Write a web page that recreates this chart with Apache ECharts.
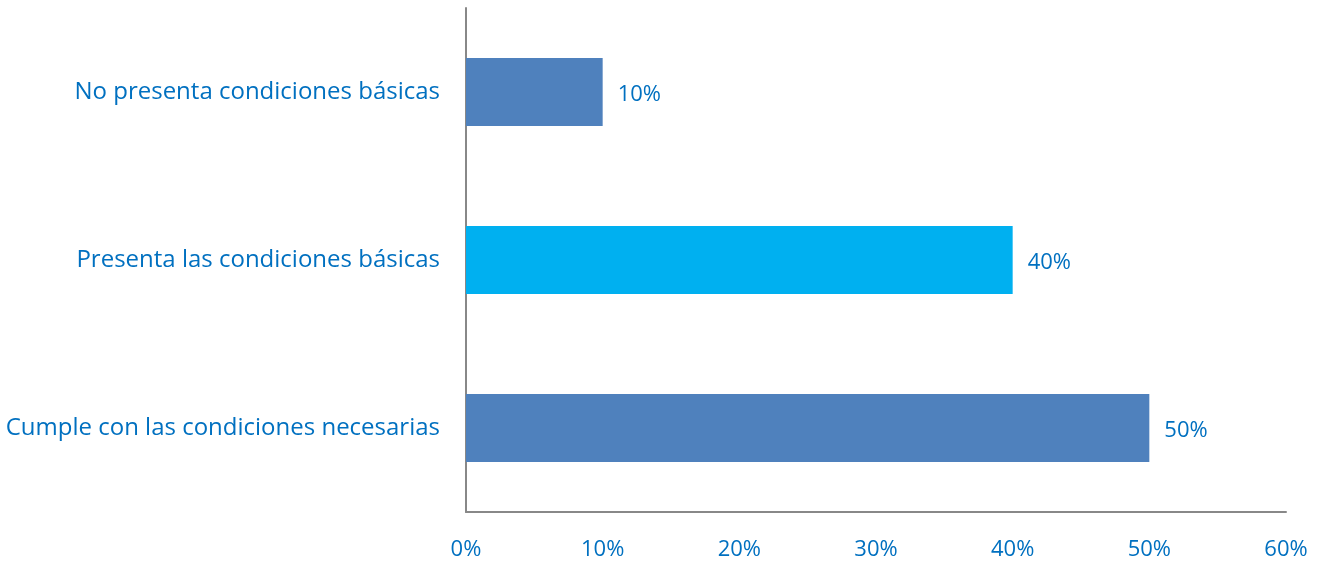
<!DOCTYPE html>
<html>
<head>
<meta charset="utf-8">
<script src="https://cdn.jsdelivr.net/npm/echarts@6/dist/echarts.min.js"></script>
<style>
  html, body { margin: 0; padding: 0; background: #fff; }
  #show_picture { width: 1321px; height: 563px; }
</style>
</head>
<body>
<div id="show_picture"></div>
<script>
    // bottom to top, as the category axis draws them
    const categories = ['Cumple con las condiciones necesarias', 'Presenta las condiciones básicas', 'No presenta condiciones básicas'];
    const values = [50, 40, 10];
    const barColors = ['#4f81bd', '#00b0f0', '#4f81bd'];
    const xTicks = [0, 10, 20, 30, 40, 50, 60];

    let myChart = echarts.init(document.getElementById('show_picture'));

    const textColor = '#0070c0';
    const font = '"Open Sans", sans-serif';

    let option = {
        animation: false,
        grid: { left: 466, right: 35, top: 8, bottom: 51 },
        xAxis: {
            type: 'value',
            min: xTicks[0],
            max: xTicks[xTicks.length - 1],
            interval: 10,
            axisLine: { show: true, lineStyle: { color: '#888', width: 2 } },
            axisTick: { show: false },
            splitLine: { show: false },
            axisLabel: {
                color: textColor, fontSize: 22, fontFamily: font, margin: 27,
                formatter: v => v + '%'
            }
        },
        yAxis: {
            type: 'category',
            data: categories,
            axisLine: { show: true, lineStyle: { color: '#888', width: 2 } },
            axisTick: { show: false },
            axisLabel: { color: textColor, fontSize: 24, fontFamily: font, margin: 26 }
        },
        series: [{
            type: 'bar',
            data: values.map((v, i) => ({ value: v, itemStyle: { color: barColors[i] } })),
            barWidth: 68,
            label: {
                show: true,
                position: 'right',
                distance: 15,
                offset: [0, 3],
                color: textColor,
                fontSize: 22,
                fontFamily: font,
                formatter: p => p.value + '%'
            }
        }]
    };

    option && myChart.setOption(option);
</script>
</body>
</html>
